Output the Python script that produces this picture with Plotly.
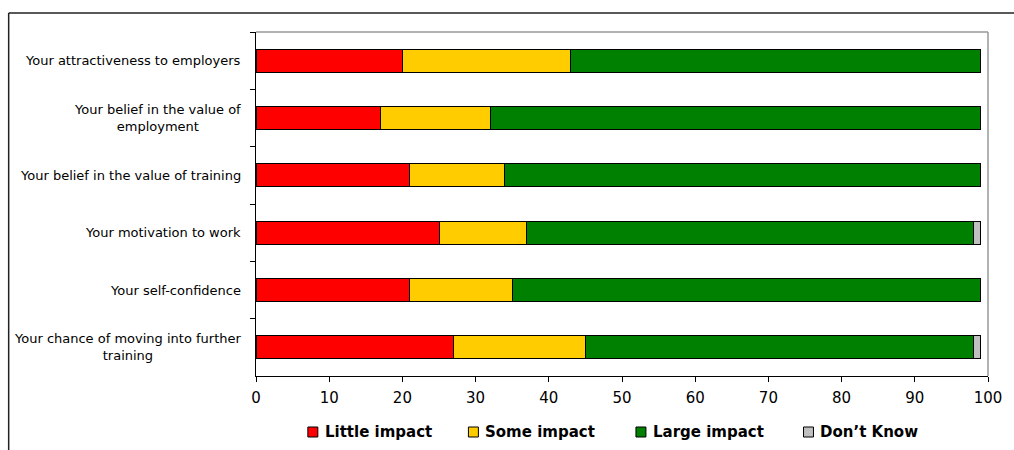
import plotly.graph_objects as go

# Survey items (top to bottom) and share of responses per impact level (%)
categories = [
    "Your attractiveness to employers",
    "Your belief in the value of<br>employment",
    "Your belief in the value of training",
    "Your motivation to work",
    "Your self-confidence",
    "Your chance of moving into further<br>training",
]
series_names = ["Little impact", "Some impact", "Large impact", "Don\u2019t Know"]
little_impact = [20, 17, 21, 25, 21, 27]
some_impact = [23, 15, 13, 12, 14, 18]
large_impact = [56, 67, 65, 61, 64, 53]
dont_know = [0, 0, 0, 1, 0, 1]
series_values = [little_impact, some_impact, large_impact, dont_know]
series_colors = ["#FF0000", "#FFCC00", "#008000", "#C0C0C0"]
x_ticks = [0, 10, 20, 30, 40, 50, 60, 70, 80, 90, 100]

# Page geometry (pixels)
W, H = 1014, 450
PL, PR, PT, PB = 256, 990, 32, 376


def px_x(p):
    return (p - PL) / (PR - PL)


def px_y(p):
    return (PB - p) / (PB - PT)


fig = go.Figure()
for name, vals, col in zip(series_names, series_values, series_colors):
    fig.add_trace(go.Bar(
        y=categories, x=vals, name=name, orientation="h",
        marker=dict(color=col, line=dict(color="#000000", width=1)),
        showlegend=False,
    ))

font_family = "DejaVu Sans, Arial, sans-serif"

annotations = []
# Category labels, right-aligned to the axis, lines centred
for i, label in enumerate(categories):
    annotations.append(dict(
        x=0, xref="paper", y=i, yref="y", text=label,
        xanchor="right", yanchor="middle", align="center", xshift=-13,
        showarrow=False, font=dict(family=font_family, size=13, color="#000000"),
    ))

shapes = []
# Legend: small squares followed by bold names
legend_x = [308, 469, 637, 805]
legend_cy = 432
for name, col, lx in zip(series_names, series_colors, legend_x):
    shapes.append(dict(
        type="rect", xref="paper", yref="paper",
        x0=px_x(lx), x1=px_x(lx + 10), y0=px_y(legend_cy + 5), y1=px_y(legend_cy - 5),
        fillcolor=col, line=dict(color="#000000", width=1),
    ))
    annotations.append(dict(
        x=px_x(lx + 15), xref="paper", y=px_y(legend_cy), yref="paper",
        text="<b>" + name + "</b>", xanchor="left", yanchor="middle",
        showarrow=False, font=dict(family=font_family, size=15, color="#000000"),
    ))

# Grey plot-area border on top and right
shapes.append(dict(type="line", xref="paper", yref="paper", x0=0, x1=1, y0=1, y1=1,
                   line=dict(color="#999999", width=1.5)))
shapes.append(dict(type="line", xref="paper", yref="paper", x0=1, x1=1, y0=0, y1=1,
                   line=dict(color="#999999", width=1.5)))
# Outer frame (top and left edges)
shapes.append(dict(type="line", xref="paper", yref="paper",
                   x0=px_x(8), x1=px_x(W + 5), y0=px_y(13), y1=px_y(13),
                   line=dict(color="#222222", width=1.5)))
shapes.append(dict(type="line", xref="paper", yref="paper",
                   x0=px_x(8), x1=px_x(8), y0=px_y(13), y1=px_y(H + 5),
                   line=dict(color="#222222", width=1.5)))

fig.update_layout(
    barmode="stack",
    bargap=0.6,
    width=W, height=H, autosize=False,
    margin=dict(l=PL, r=W - PR, t=PT, b=H - PB, pad=0),
    paper_bgcolor="#FFFFFF",
    plot_bgcolor="#FFFFFF",
    font=dict(family=font_family, color="#000000"),
    annotations=annotations,
    shapes=shapes,
    showlegend=False,
)
fig.update_xaxes(
    range=[0, 100], tickvals=x_ticks, showgrid=False, zeroline=False,
    showline=True, linecolor="#000000", linewidth=1,
    ticks="outside", ticklen=5, tickcolor="#000000", ticklabelstandoff=3,
    tickfont=dict(family=font_family, size=15, color="#000000"),
)
fig.update_yaxes(
    autorange="reversed", type="category", showgrid=False, zeroline=False,
    showline=True, linecolor="#000000", linewidth=1,
    ticks="outside", ticklen=5, tickcolor="#000000", tickson="boundaries",
    showticklabels=False,
)

fig.write_html("out.html")
